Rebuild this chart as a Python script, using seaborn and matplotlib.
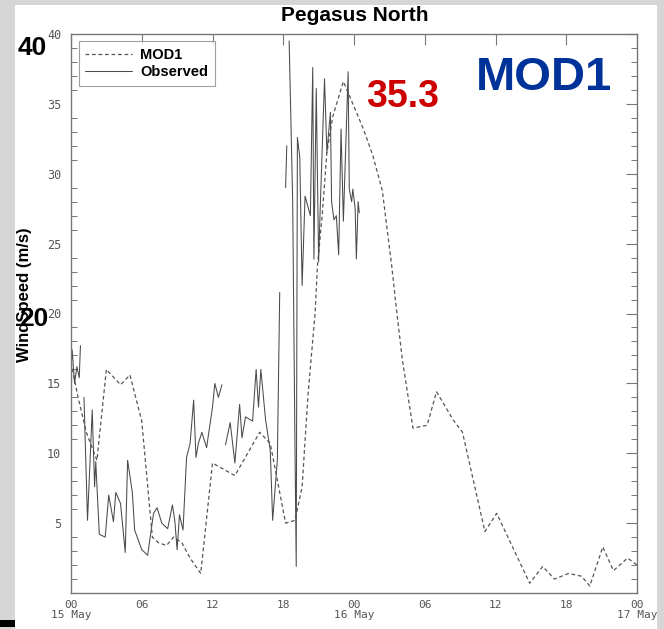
import numpy as np
import pandas as pd
import seaborn as sns
import matplotlib.pyplot as plt
from matplotlib.patches import Rectangle
from matplotlib.ticker import MultipleLocator

# hours since 00 UTC 15 May
mod_hours = [0, 0.6, 1.3, 2.2, 3.0, 4.2, 5.0, 6.0, 6.9, 7.4, 8.1, 8.7, 9.4, 10.1, 11.0,
             12.0, 13.9, 16.0, 16.9, 18.2, 19.0, 19.6, 20.1, 20.7, 20.9, 21.3, 21.7, 22.2,
             23.1, 24.8, 25.6, 26.4, 27.2, 27.6, 28.1, 29.0, 30.2, 31.0, 32.4, 33.2, 35.1,
             36.1, 38.9, 40.0, 41.0, 42.2, 43.3, 44.0, 45.1, 46.0, 47.2, 48.0]
mod_speed = [16.5, 14.0, 11.5, 9.5, 16.0, 14.9, 15.6, 12.3, 4.0, 3.6, 3.4, 4.0, 3.6, 2.5, 1.4,
             9.3, 8.4, 11.5, 10.7, 5.0, 5.2, 7.6, 14.2, 20.0, 23.4, 27.0, 31.5, 34.1,
             36.6, 33.2, 31.3, 28.8, 23.4, 20.3, 16.7, 11.8, 12.0, 14.4, 12.4, 11.5, 4.4,
             5.7, 0.7, 1.9, 1.0, 1.4, 1.2, 0.5, 3.3, 1.6, 2.5, 2.0]

obs_hours = [0.0, 0.1, 0.3, 0.5, 0.7, 0.8,
             1.1, 1.4, 1.8, 2.0, 2.1, 2.4, 2.9, 3.2, 3.6, 3.8, 4.2, 4.6, 4.8, 5.2, 5.4, 6.0,
             6.5, 7.0, 7.3, 7.7, 8.2, 8.6, 8.8, 9.0, 9.2, 9.5, 9.8, 10.1, 10.4, 10.6, 10.8,
             11.1, 11.5, 12.0, 12.2, 12.5, 12.8,
             13.1, 13.5, 13.9, 14.3, 14.5, 14.8, 15.4, 15.7, 15.9, 16.1, 16.5, 16.9, 17.1,
             17.5, 17.7,
             18.2, 18.3,
             18.5, 18.8, 19.0, 19.1, 19.2, 19.4, 19.6, 19.85, 20.3, 20.5, 20.6, 20.8, 21.0,
             21.1, 21.5, 21.7, 22.0, 22.1, 22.3, 22.5, 22.7, 22.9, 23.1, 23.5, 23.6, 23.8,
             23.9, 24.1, 24.2, 24.35, 24.45]
obs_speed = [16.0, 17.4, 15.0, 16.2, 15.4, 17.7,
             14.0, 5.2, 13.1, 7.6, 9.4, 4.2, 4.0, 7.0, 5.1, 7.2, 6.4, 2.9, 9.5, 7.2, 4.5, 3.1,
             2.7, 5.7, 6.1, 5.0, 4.6, 6.3, 5.2, 3.1, 5.6, 4.5, 9.7, 10.7, 13.8, 9.7, 10.7,
             11.5, 10.4, 13.3, 15.0, 14.0, 14.9,
             10.6, 12.2, 9.3, 13.5, 11.1, 12.6, 12.3, 16.0, 13.3, 16.0, 12.4, 10.2, 5.2,
             9.5, 21.5,
             29.0, 32.0,
             39.5, 28.0, 10.0, 1.9, 32.6, 31.2, 22.0, 28.4, 27.0, 37.6, 23.9, 36.1, 23.7,
             26.6, 36.8, 31.5, 34.4, 28.0, 26.7, 27.0, 24.2, 33.2, 26.6, 37.3, 28.9, 28.0,
             28.9, 27.5, 23.9, 28.0, 27.2]
# data gaps split the observed record into pieces
obs_segment = [0] * 6 + [1] * 37 + [2] * 15 + [3] * 2 + [4] * 31

tick_hours = [0, 6, 12, 18, 24, 30, 36, 42, 48]
tick_labels = ["00\n15 May", "06", "12", "18", "00\n16 May", "06", "12", "18", "00\n17 May"]

mod = pd.DataFrame({"hour": mod_hours, "speed": mod_speed})
obs = pd.DataFrame({"hour": obs_hours, "speed": obs_speed, "seg": obs_segment})

sns.set_style("white")
plt.rcParams["font.family"] = ["Liberation Sans", "DejaVu Sans"]
plt.rcParams["text.color"] = "black"

fig = plt.figure(figsize=(6.64, 6.29), dpi=100, facecolor="#d6d6d6")
# white slide panel behind the plot
fig.patches.append(Rectangle((15 / 664, 0), 642 / 664, 624 / 629, transform=fig.transFigure,
                             facecolor="white", edgecolor="none", zorder=-2))
fig.patches.append(Rectangle((0, 2 / 629), 15 / 664, 7 / 629, transform=fig.transFigure,
                             facecolor="black", edgecolor="none", zorder=-1))

ax = fig.add_axes([71 / 664, 36 / 629, 566 / 664, 559 / 629])
ax.set_zorder(1)
ax.set_facecolor("white")

sns.lineplot(data=mod, x="hour", y="speed", ax=ax, color="#555555", lw=0.9,
             linestyle=(0, (3, 2.2)))
sns.lineplot(data=obs, x="hour", y="speed", units="seg", estimator=None, ax=ax,
             color="#4a4a4a", lw=0.75)

ax.set_xlim(0, 48)
ax.set_ylim(0, 40)
ax.set_xticks(tick_hours)
ax.set_xticklabels(tick_labels, family="DejaVu Sans Mono", fontsize=8, color="#555555",
                   linespacing=1.0)
ax.set_yticks([5, 10, 15, 20, 25, 30, 35, 40])
ax.set_yticklabels(["5", "10", "15", "20", "25", "30", "35", "40"],
                   family="DejaVu Sans Mono", fontsize=8.5, color="#555555")
ax.yaxis.set_minor_locator(MultipleLocator(1))
ax.tick_params(axis="both", which="major", direction="in", length=8, width=0.8,
               color="#777777", top=True, right=True, labelright=False, labeltop=False)
ax.tick_params(axis="x", pad=5)
ax.tick_params(axis="y", pad=7)
ax.tick_params(axis="y", which="minor", direction="in", length=4, width=0.7,
               color="#777777", left=True, right=True)
for s in ax.spines.values():
    s.set_color("#777777")
    s.set_linewidth(1.0)
ax.set_xlabel("")
ax.set_ylabel("")

handles = [ax.lines[0], ax.lines[1]]
leg = ax.legend(handles, ["MOD1", "Observed"], loc="upper left",
                bbox_to_anchor=(0.014, 0.987), borderaxespad=0,
                frameon=True, fancybox=False, handlelength=3.2, handletextpad=0.55,
                prop={"weight": "bold", "size": 10.5}, borderpad=0.45, labelspacing=0.25)
leg.get_frame().set_edgecolor("#888888")
leg.get_frame().set_linewidth(0.8)

fig.text(0.535, 0.975, "Pegasus North", ha="center", va="center", fontsize=15,
         fontweight="bold")
fig.text(0.037, 0.531, "WindSpeed (m/s)", ha="center", va="center", rotation=90,
         fontsize=12, fontweight="bold")
fig.text(0.819, 0.876, "MOD1", ha="center", va="center", fontsize=34, fontweight="bold",
         color="#003399")
fig.text(0.607, 0.846, "35.3", ha="center", va="center", fontsize=27, fontweight="bold",
         color="#cc0000")
fig.text(0.048, 0.924, "40", ha="center", va="center", fontsize=19, fontweight="bold",
         zorder=3)
fig.text(0.051, 0.493, "20", ha="center", va="center", fontsize=19, fontweight="bold",
         zorder=3)

fig.savefig("out.png", dpi=100, facecolor=fig.get_facecolor())
